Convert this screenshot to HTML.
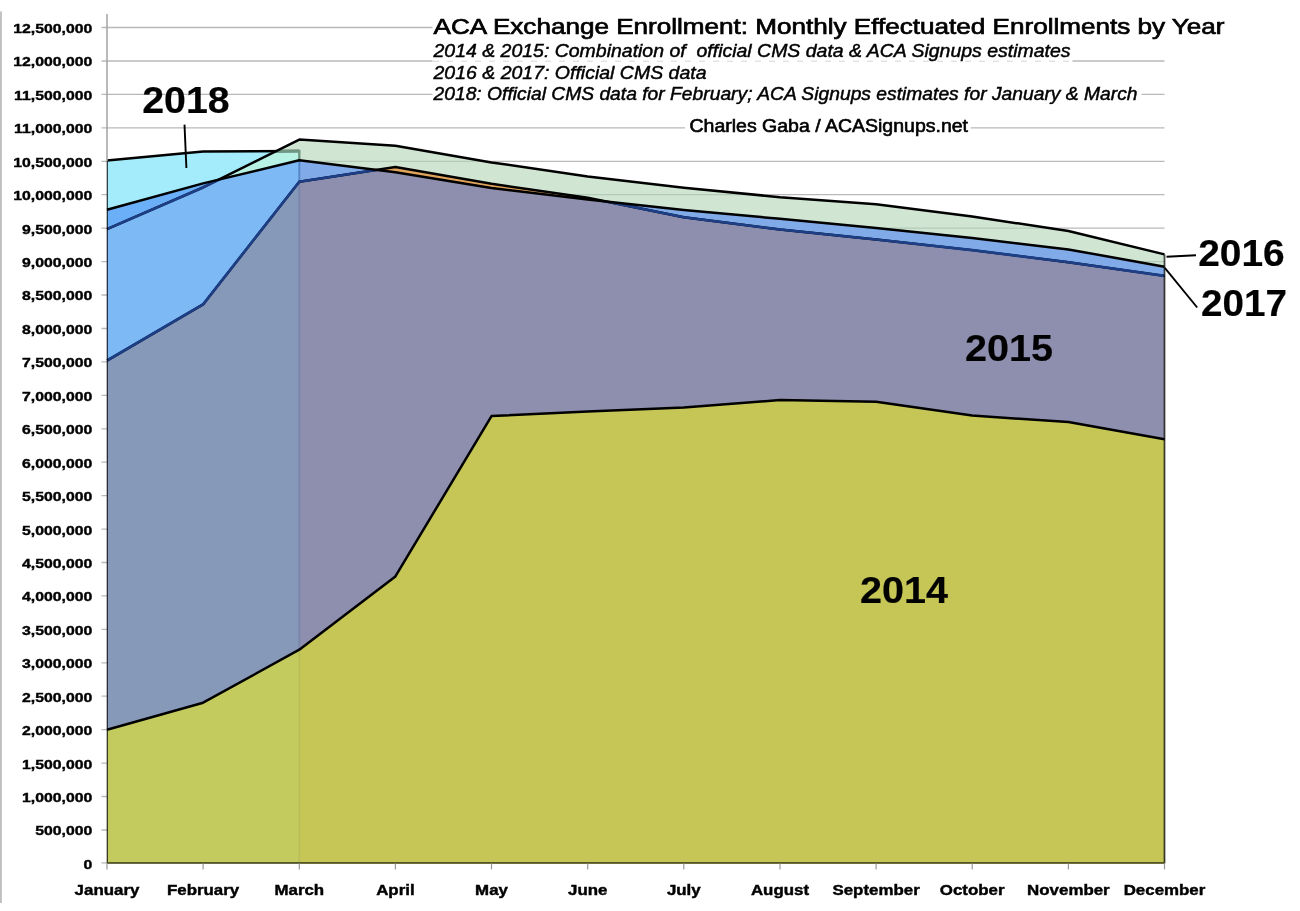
<!DOCTYPE html>
<html><head><meta charset="utf-8"><title>ACA Exchange Enrollment</title>
<style>
html,body{margin:0;padding:0;background:#fff;}
body{width:1300px;height:911px;overflow:hidden;font-family:"Liberation Sans",sans-serif;}
svg{display:block;}
text{font-family:"Liberation Sans",sans-serif;fill:#000;}
.yl{font-weight:bold;font-size:13.4px;stroke:#000;stroke-width:0.4px;}
.xl{font-weight:bold;font-size:15.5px;stroke:#000;stroke-width:0.45px;}
.big{font-weight:bold;font-size:36.5px;stroke:#000;stroke-width:0.2px;}
.sub{font-style:italic;font-size:18.2px;stroke:#000;stroke-width:0.45px;}
</style></head><body>
<svg width="1300" height="911" viewBox="0 0 1300 911">
<defs>

<clipPath id="cL"><rect x="107.0" y="0" width="192.3" height="911"/></clipPath>
<clipPath id="c17"><polygon points="107.0,209.8 203.1,183.4 299.3,160.3 395.4,172.3 491.5,188.0 587.7,199.4 683.8,210.1 780.0,218.8 876.1,228.0 972.2,238.0 1068.4,249.4 1164.5,266.7 1164.5,863.4 107.0,863.4"/></clipPath>
<clipPath id="c16"><polygon points="107.0,229.1 203.1,187.4 299.3,139.6 395.4,145.8 491.5,162.4 587.7,176.5 683.8,187.7 780.0,197.2 876.1,204.3 972.2,216.5 1068.4,231.0 1164.5,254.4 1164.5,863.4 107.0,863.4"/></clipPath>
<clipPath id="c18"><polygon points="107.0,160.6 203.1,151.6 299.3,151.1 299.3,863.4 107.0,863.4"/></clipPath>
</defs>
<rect x="0" y="0" width="1300" height="911" fill="#fff"/>
<rect x="0" y="11.5" width="1.9" height="891.5" fill="#c0c0c0"/>
<g stroke="#b9b9b9" stroke-width="1.3">
<line x1="101.5" y1="830.0" x2="1164.5" y2="830.0"/>
<line x1="101.5" y1="796.5" x2="1164.5" y2="796.5"/>
<line x1="101.5" y1="763.1" x2="1164.5" y2="763.1"/>
<line x1="101.5" y1="729.7" x2="1164.5" y2="729.7"/>
<line x1="101.5" y1="696.2" x2="1164.5" y2="696.2"/>
<line x1="101.5" y1="662.8" x2="1164.5" y2="662.8"/>
<line x1="101.5" y1="629.4" x2="1164.5" y2="629.4"/>
<line x1="101.5" y1="595.9" x2="1164.5" y2="595.9"/>
<line x1="101.5" y1="562.5" x2="1164.5" y2="562.5"/>
<line x1="101.5" y1="529.1" x2="1164.5" y2="529.1"/>
<line x1="101.5" y1="495.6" x2="1164.5" y2="495.6"/>
<line x1="101.5" y1="462.2" x2="1164.5" y2="462.2"/>
<line x1="101.5" y1="428.8" x2="1164.5" y2="428.8"/>
<line x1="101.5" y1="395.3" x2="1164.5" y2="395.3"/>
<line x1="101.5" y1="361.9" x2="1164.5" y2="361.9"/>
<line x1="101.5" y1="328.5" x2="1164.5" y2="328.5"/>
<line x1="101.5" y1="295.0" x2="1164.5" y2="295.0"/>
<line x1="101.5" y1="261.6" x2="1164.5" y2="261.6"/>
<line x1="101.5" y1="228.2" x2="1164.5" y2="228.2"/>
<line x1="101.5" y1="194.7" x2="1164.5" y2="194.7"/>
<line x1="101.5" y1="161.3" x2="1164.5" y2="161.3"/>
<line x1="101.5" y1="127.9" x2="1164.5" y2="127.9"/>
<line x1="101.5" y1="94.4" x2="1164.5" y2="94.4"/>
<line x1="101.5" y1="61.0" x2="1164.5" y2="61.0"/>
<line x1="101.5" y1="27.5" x2="1164.5" y2="27.5"/>
<line x1="101.5" y1="862.9" x2="107.0" y2="862.9"/>
</g>
<polygon points="107.0,229.1 203.1,187.4 299.3,139.6 395.4,145.8 491.5,162.4 587.7,176.5 683.8,187.7 780.0,197.2 876.1,204.3 972.2,216.5 1068.4,231.0 1164.5,254.4 1164.5,863.4 107.0,863.4" fill="#d0e6d3"/>
<g clip-path="url(#c16)" stroke="#9fb5a6" stroke-width="1.2" opacity="0.55">
<line x1="299.3" y1="261.6" x2="1164.5" y2="261.6"/>
<line x1="299.3" y1="228.2" x2="1164.5" y2="228.2"/>
<line x1="299.3" y1="194.7" x2="1164.5" y2="194.7"/>
<line x1="299.3" y1="161.3" x2="1164.5" y2="161.3"/>
</g>
<polygon points="107.0,209.8 203.1,183.4 299.3,160.3 395.4,172.3 491.5,188.0 587.7,199.4 683.8,210.1 780.0,218.8 876.1,228.0 972.2,238.0 1068.4,249.4 1164.5,266.7 1164.5,863.4 107.0,863.4" fill="#80aae8"/>
<polygon points="107.0,360.6 203.1,304.4 299.3,181.7 395.4,167.0 491.5,183.8 587.7,197.7 683.8,217.3 780.0,229.5 876.1,239.5 972.2,250.1 1068.4,262.3 1164.5,275.9 1164.5,863.4 107.0,863.4" fill="#e0a45c"/>
<polygon points="107.0,360.6 203.1,304.4 299.3,181.7 395.4,167.0 491.5,183.8 587.7,197.7 683.8,217.3 780.0,229.5 876.1,239.5 972.2,250.1 1068.4,262.3 1164.5,275.9 1164.5,863.4 107.0,863.4" fill="#8e8eae" clip-path="url(#c17)"/>
<polygon points="107.0,729.7 203.1,702.7 299.3,649.7 395.4,576.4 491.5,416.1 587.7,411.4 683.8,407.4 780.0,400.1 876.1,401.8 972.2,415.6 1068.4,422.1 1164.5,439.3 1164.5,863.4 107.0,863.4" fill="#c6c656"/>
<g clip-path="url(#cL)">
<polygon points="107.0,229.1 203.1,187.4 299.3,139.6 395.4,145.8 491.5,162.4 587.7,176.5 683.8,187.7 780.0,197.2 876.1,204.3 972.2,216.5 1068.4,231.0 1164.5,254.4 1164.5,863.4 107.0,863.4" fill="#d0e6d3"/>
<polygon points="107.0,160.6 203.1,151.6 299.3,151.1 299.3,863.4 107.0,863.4" fill="#a4ecfb"/>
<g clip-path="url(#c18)"><polygon points="107.0,229.1 203.1,187.4 299.3,139.6 395.4,145.8 491.5,162.4 587.7,176.5 683.8,187.7 780.0,197.2 876.1,204.3 972.2,216.5 1068.4,231.0 1164.5,254.4 1164.5,863.4 107.0,863.4" fill="#b8f2e4"/></g>
<polygon points="107.0,209.8 203.1,183.4 299.3,160.3 395.4,172.3 491.5,188.0 587.7,199.4 683.8,210.1 780.0,218.8 876.1,228.0 972.2,238.0 1068.4,249.4 1164.5,266.7 1164.5,863.4 107.0,863.4" fill="#6aaff8"/>
<g clip-path="url(#c17)"><polygon points="107.0,229.1 203.1,187.4 299.3,139.6 395.4,145.8 491.5,162.4 587.7,176.5 683.8,187.7 780.0,197.2 876.1,204.3 972.2,216.5 1068.4,231.0 1164.5,254.4 1164.5,863.4 107.0,863.4" fill="#7db9f4"/></g>
<polygon points="107.0,360.6 203.1,304.4 299.3,181.7 395.4,167.0 491.5,183.8 587.7,197.7 683.8,217.3 780.0,229.5 876.1,239.5 972.2,250.1 1068.4,262.3 1164.5,275.9 1164.5,863.4 107.0,863.4" fill="#8799b9"/>
<polygon points="107.0,729.7 203.1,702.7 299.3,649.7 395.4,576.4 491.5,416.1 587.7,411.4 683.8,407.4 780.0,400.1 876.1,401.8 972.2,415.6 1068.4,422.1 1164.5,439.3 1164.5,863.4 107.0,863.4" fill="#c4cb5e"/>
</g>
<polyline points="107.0,160.6 203.1,151.6 299.3,151.1" fill="none" stroke="#000" stroke-width="2.5" stroke-linejoin="round" />
<g clip-path="url(#c16)"><polyline points="107.0,160.6 203.1,151.6 299.3,151.1" fill="none" stroke="#6e9680" stroke-width="2.5" stroke-linejoin="round" /></g>
<line x1="299.3" y1="149.9" x2="299.3" y2="160.3" stroke="#6e9680" stroke-width="2.4"/>
<line x1="299.3" y1="160.3" x2="299.3" y2="181.7" stroke="#5687ca" stroke-width="2.0"/>
<line x1="299.3" y1="181.7" x2="299.3" y2="649.7" stroke="#7a86aa" stroke-width="2.0"/>
<line x1="299.3" y1="649.7" x2="299.3" y2="863.4" stroke="#b9be58" stroke-width="1.8"/>
<polyline points="107.0,229.1 203.1,187.4 299.3,139.6 395.4,145.8 491.5,162.4 587.7,176.5 683.8,187.7 780.0,197.2 876.1,204.3 972.2,216.5 1068.4,231.0 1164.5,254.4" fill="none" stroke="#000" stroke-width="2.5" stroke-linejoin="round" />
<g clip-path="url(#c17)"><polyline points="107.0,229.1 203.1,187.4 299.3,139.6 395.4,145.8 491.5,162.4 587.7,176.5 683.8,187.7 780.0,197.2 876.1,204.3 972.2,216.5 1068.4,231.0 1164.5,254.4" fill="none" stroke="#1d3f87" stroke-width="2.7" stroke-linejoin="round" /></g>
<polyline points="107.0,360.6 203.1,304.4 299.3,181.7 395.4,167.0 491.5,183.8 587.7,197.7 683.8,217.3 780.0,229.5 876.1,239.5 972.2,250.1 1068.4,262.3 1164.5,275.9" fill="none" stroke="#000" stroke-width="2.4" stroke-linejoin="round" />
<g clip-path="url(#c17)"><polyline points="107.0,360.6 203.1,304.4 299.3,181.7 395.4,167.0 491.5,183.8 587.7,197.7 683.8,217.3 780.0,229.5 876.1,239.5 972.2,250.1 1068.4,262.3 1164.5,275.9" fill="none" stroke="#1d3f87" stroke-width="2.6" stroke-linejoin="round" /></g>
<polyline points="107.0,209.8 203.1,183.4 299.3,160.3 395.4,172.3 491.5,188.0 587.7,199.4 683.8,210.1 780.0,218.8 876.1,228.0 972.2,238.0 1068.4,249.4 1164.5,266.7" fill="none" stroke="#000" stroke-width="2.5" stroke-linejoin="round" />
<polyline points="107.0,729.7 203.1,702.7 299.3,649.7 395.4,576.4 491.5,416.1 587.7,411.4 683.8,407.4 780.0,400.1 876.1,401.8 972.2,415.6 1068.4,422.1 1164.5,439.3" fill="none" stroke="#000" stroke-width="2.5" stroke-linejoin="round" />
<line x1="107.0" y1="14" x2="107.0" y2="161.3" stroke="#a2a2a2" stroke-width="1.5"/>
<line x1="107.3" y1="161.3" x2="107.3" y2="863.4" stroke="rgba(0,0,0,0.75)" stroke-width="1.3"/>
<line x1="1164.5" y1="254.4" x2="1164.5" y2="863.4" stroke="rgba(0,0,0,0.7)" stroke-width="1.8"/>
<line x1="107.0" y1="862.9" x2="1164.5" y2="862.9" stroke="#55552a" stroke-width="1.6"/>
<g stroke="#9a9a9a" stroke-width="1.2">
<line x1="107.0" y1="863.4" x2="107.0" y2="869.4"/>
<line x1="203.1" y1="863.4" x2="203.1" y2="869.4"/>
<line x1="299.3" y1="863.4" x2="299.3" y2="869.4"/>
<line x1="395.4" y1="863.4" x2="395.4" y2="869.4"/>
<line x1="491.5" y1="863.4" x2="491.5" y2="869.4"/>
<line x1="587.7" y1="863.4" x2="587.7" y2="869.4"/>
<line x1="683.8" y1="863.4" x2="683.8" y2="869.4"/>
<line x1="780.0" y1="863.4" x2="780.0" y2="869.4"/>
<line x1="876.1" y1="863.4" x2="876.1" y2="869.4"/>
<line x1="972.2" y1="863.4" x2="972.2" y2="869.4"/>
<line x1="1068.4" y1="863.4" x2="1068.4" y2="869.4"/>
<line x1="1164.5" y1="863.4" x2="1164.5" y2="869.4"/>
</g>
<g opacity="0.999">
<text class="yl" transform="translate(92.3,868.8) scale(1.18,1)" text-anchor="end">0</text>
<text class="yl" transform="translate(92.3,835.4) scale(1.18,1)" text-anchor="end">500,000</text>
<text class="yl" transform="translate(92.3,801.9) scale(1.18,1)" text-anchor="end">1,000,000</text>
<text class="yl" transform="translate(92.3,768.5) scale(1.18,1)" text-anchor="end">1,500,000</text>
<text class="yl" transform="translate(92.3,735.1) scale(1.18,1)" text-anchor="end">2,000,000</text>
<text class="yl" transform="translate(92.3,701.6) scale(1.18,1)" text-anchor="end">2,500,000</text>
<text class="yl" transform="translate(92.3,668.2) scale(1.18,1)" text-anchor="end">3,000,000</text>
<text class="yl" transform="translate(92.3,634.8) scale(1.18,1)" text-anchor="end">3,500,000</text>
<text class="yl" transform="translate(92.3,601.3) scale(1.18,1)" text-anchor="end">4,000,000</text>
<text class="yl" transform="translate(92.3,567.9) scale(1.18,1)" text-anchor="end">4,500,000</text>
<text class="yl" transform="translate(92.3,534.5) scale(1.18,1)" text-anchor="end">5,000,000</text>
<text class="yl" transform="translate(92.3,501.0) scale(1.18,1)" text-anchor="end">5,500,000</text>
<text class="yl" transform="translate(92.3,467.6) scale(1.18,1)" text-anchor="end">6,000,000</text>
<text class="yl" transform="translate(92.3,434.2) scale(1.18,1)" text-anchor="end">6,500,000</text>
<text class="yl" transform="translate(92.3,400.7) scale(1.18,1)" text-anchor="end">7,000,000</text>
<text class="yl" transform="translate(92.3,367.3) scale(1.18,1)" text-anchor="end">7,500,000</text>
<text class="yl" transform="translate(92.3,333.9) scale(1.18,1)" text-anchor="end">8,000,000</text>
<text class="yl" transform="translate(92.3,300.4) scale(1.18,1)" text-anchor="end">8,500,000</text>
<text class="yl" transform="translate(92.3,267.0) scale(1.18,1)" text-anchor="end">9,000,000</text>
<text class="yl" transform="translate(92.3,233.6) scale(1.18,1)" text-anchor="end">9,500,000</text>
<text class="yl" transform="translate(92.3,200.1) scale(1.18,1)" text-anchor="end">10,000,000</text>
<text class="yl" transform="translate(92.3,166.7) scale(1.18,1)" text-anchor="end">10,500,000</text>
<text class="yl" transform="translate(92.3,133.3) scale(1.18,1)" text-anchor="end">11,000,000</text>
<text class="yl" transform="translate(92.3,99.8) scale(1.18,1)" text-anchor="end">11,500,000</text>
<text class="yl" transform="translate(92.3,66.4) scale(1.18,1)" text-anchor="end">12,000,000</text>
<text class="yl" transform="translate(92.3,32.9) scale(1.18,1)" text-anchor="end">12,500,000</text>
<text class="xl" transform="translate(107.0,895.3) scale(1.09,1)" text-anchor="middle">January</text>
<text class="xl" transform="translate(203.1,895.3) scale(1.09,1)" text-anchor="middle">February</text>
<text class="xl" transform="translate(299.3,895.3) scale(1.09,1)" text-anchor="middle">March</text>
<text class="xl" transform="translate(395.4,895.3) scale(1.09,1)" text-anchor="middle">April</text>
<text class="xl" transform="translate(491.5,895.3) scale(1.09,1)" text-anchor="middle">May</text>
<text class="xl" transform="translate(587.7,895.3) scale(1.09,1)" text-anchor="middle">June</text>
<text class="xl" transform="translate(683.8,895.3) scale(1.09,1)" text-anchor="middle">July</text>
<text class="xl" transform="translate(780.0,895.3) scale(1.09,1)" text-anchor="middle">August</text>
<text class="xl" transform="translate(876.1,895.3) scale(1.09,1)" text-anchor="middle">September</text>
<text class="xl" transform="translate(972.2,895.3) scale(1.09,1)" text-anchor="middle">October</text>
<text class="xl" transform="translate(1068.4,895.3) scale(1.09,1)" text-anchor="middle">November</text>
<text class="xl" transform="translate(1164.5,895.3) scale(1.09,1)" text-anchor="middle">December</text>
<rect x="432.5" y="14" width="800" height="24" fill="#fff"/>
<rect x="432.5" y="42" width="640" height="20.5" fill="#fff"/><line x1="433" y1="61.2" x2="1071" y2="61.2" stroke="#d6d6d6" stroke-width="1" stroke-dasharray="6 8"/>
<rect x="432.5" y="84" width="709" height="20" fill="#fff"/>
<rect x="685" y="117" width="285.8" height="20" fill="#fff"/>
<text x="433.5" y="34.4" font-size="22px" textLength="791" lengthAdjust="spacingAndGlyphs" stroke="#000" stroke-width="0.7">ACA Exchange Enrollment: Monthly Effectuated Enrollments by Year</text>
<text class="sub" xml:space="preserve" x="433.5" y="57.3" textLength="637" lengthAdjust="spacingAndGlyphs">2014 &amp; 2015: Combination of  official CMS data &amp; ACA Signups estimates</text>
<text class="sub" x="433.5" y="78.5" textLength="273" lengthAdjust="spacingAndGlyphs">2016 &amp; 2017: Official CMS data</text>
<text class="sub" x="433.5" y="99.8" textLength="704" lengthAdjust="spacingAndGlyphs">2018: Official CMS data for February; ACA Signups estimates for January &amp; March</text>
<text x="689.5" y="132.1" font-size="17.5px" textLength="278.5" lengthAdjust="spacingAndGlyphs" stroke="#000" stroke-width="0.6">Charles Gaba / ACASignups.net</text>
<text class="big" x="142.2" y="112.7" textLength="87.5" lengthAdjust="spacingAndGlyphs">2018</text>
<text class="big" x="1198.2" y="265.9" textLength="86.5" lengthAdjust="spacingAndGlyphs">2016</text>
<text class="big" x="1201" y="316.2" textLength="86" lengthAdjust="spacingAndGlyphs">2017</text>
<text class="big" x="965" y="361" textLength="88" lengthAdjust="spacingAndGlyphs">2015</text>
<text class="big" x="860" y="603" textLength="88" lengthAdjust="spacingAndGlyphs">2014</text>
</g>
<g stroke="#000" stroke-width="1.9" fill="none">
<line x1="184.5" y1="124.6" x2="186.4" y2="168"/>
<line x1="1166.5" y1="256.7" x2="1196" y2="255.2"/>
<line x1="1164.8" y1="267.8" x2="1197.2" y2="307.5"/>
</g>
</svg></body></html>
